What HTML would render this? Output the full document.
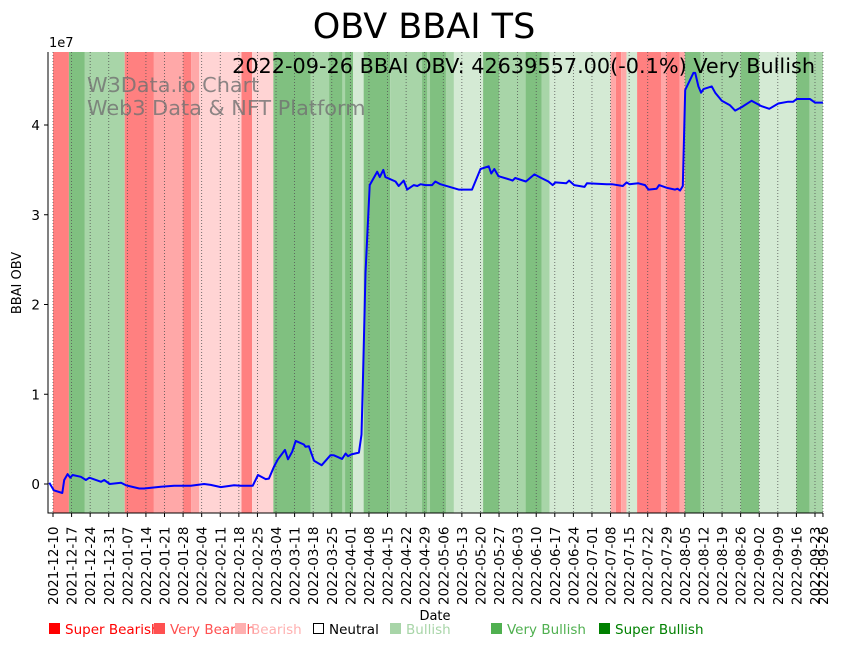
<!DOCTYPE html>
<html><head><meta charset="utf-8"><style>
body{margin:0;background:#fff;}
svg{display:block;font-family:"DejaVu Sans","Liberation Sans",sans-serif;}
</style></head><body>
<svg id="chart" width="842" height="646" viewBox="0 0 842 646" xmlns="http://www.w3.org/2000/svg">
<text x="424" y="38" font-size="35" text-anchor="middle">OBV BBAI TS</text>
<g id="bands"></g>
<g id="grid"></g>
<g id="line"></g>
<text x="87" y="92" font-size="20.8" fill="#707070" fill-opacity="0.8">W3Data.io Chart</text>
<text x="87" y="115" font-size="20.8" fill="#707070" fill-opacity="0.8">Web3 Data &amp; NFT Platform</text>
<text x="815" y="73" font-size="20.8" text-anchor="end">2022-09-26 BBAI OBV: 42639557.00(-0.1%) Very Bullish</text>
<g id="axes"></g>
<text x="49" y="47" font-size="13">1e7</text>
<text transform="translate(21,283) rotate(-90)" font-size="13" text-anchor="middle">BBAI OBV</text>
<text x="435" y="620" font-size="13" text-anchor="middle">Date</text>
<g id="legend"></g>
</svg>
<script>
const bandStarts = [0,6,12,27,38,49,52,55,71,75,83,97,104,109,110,113,117,127,139,141,142,148,151,162,168,178,184,187,210,212,214,216,220,229,231,236,238,244,259,266,280,285];
const bandEnds   = [6,12,27,38,49,52,55,71,75,83,97,104,109,110,113,117,127,139,141,142,148,151,162,168,178,184,187,210,212,214,216,220,229,231,236,238,244,259,266,280,285,290];
const bandCats   = ['sb','vb','b','sb','vr','sb','vr','br','sb','br','vb','b','vb','b','vb','n','vb','b','vb','b','vb','b','n','vb','b','vb','b','n','vr','sb','vr','n','sb','vr','sb','vr','vb','b','vb','n','vb','b'];
const obvDays = [-1.4,0.3,3.5,4.2,5.5,6.5,7.4,10.5,12.4,13.7,18.1,19.3,21.4,25.6,27.5,32.5,34.3,40.6,45.6,51.9,56.9,59.4,63.2,68.2,70.7,75.2,77.2,80.1,81.3,83.2,84.7,87.4,88.5,90.1,91.4,94.5,95.1,96.4,98.3,101.2,104.5,105.8,108.9,110.2,111.1,112.4,115.2,116.2,116.8,117.7,119.3,122.1,123.1,124.4,125.2,129,130.2,132.1,133.4,135.9,137.2,138.4,140.3,142.8,144,145.9,152.8,157.8,161,164.1,165.1,166.2,167.8,172.2,173.1,174.1,178.1,181.3,183.9,186.6,188.2,189.2,193.3,194.4,196.3,200.2,201.1,208.6,210.5,214.6,216.1,217.1,220.5,223,224.3,227.4,228.3,231.2,234.3,235.2,236.2,237.2,238.1,241.2,241.9,243.1,244.1,245,248.1,249.4,251.9,255,256.9,259.4,263.1,266.9,269.8,273.2,276.9,278.8,280.1,285.1,287,290];
const obvValues = [0.015,-0.07,-0.1,0.045,0.11,0.07,0.1,0.08,0.045,0.07,0.025,0.045,0,0.015,-0.015,-0.05,-0.05,-0.03,-0.02,-0.02,0,-0.01,-0.035,-0.015,-0.02,-0.02,0.1,0.055,0.06,0.19,0.275,0.38,0.275,0.36,0.48,0.44,0.415,0.42,0.26,0.21,0.32,0.32,0.28,0.34,0.31,0.33,0.35,0.55,1.23,2.35,3.33,3.48,3.42,3.5,3.42,3.37,3.32,3.38,3.28,3.33,3.32,3.34,3.33,3.33,3.37,3.34,3.28,3.28,3.51,3.54,3.46,3.51,3.43,3.39,3.38,3.41,3.37,3.45,3.41,3.37,3.33,3.36,3.35,3.38,3.33,3.31,3.35,3.34,3.34,3.32,3.36,3.34,3.35,3.33,3.28,3.29,3.33,3.3,3.28,3.29,3.27,3.32,4.39,4.58,4.58,4.43,4.36,4.4,4.43,4.36,4.27,4.22,4.16,4.2,4.27,4.21,4.18,4.24,4.26,4.26,4.29,4.29,4.25,4.25];
const yTicks = [0,1,2,3,4];
const xTickLabels = ['2021-12-10','2021-12-17','2021-12-24','2021-12-31','2022-01-07','2022-01-14','2022-01-21','2022-01-28','2022-02-04','2022-02-11','2022-02-18','2022-02-25','2022-03-04','2022-03-11','2022-03-18','2022-03-25','2022-04-01','2022-04-08','2022-04-15','2022-04-22','2022-04-29','2022-05-06','2022-05-13','2022-05-20','2022-05-27','2022-06-03','2022-06-10','2022-06-17','2022-06-24','2022-07-01','2022-07-08','2022-07-15','2022-07-22','2022-07-29','2022-08-05','2022-08-12','2022-08-19','2022-08-26','2022-09-02','2022-09-09','2022-09-16','2022-09-23','2022-09-26'];
const xTickDays = [0,7,14,21,28,35,42,49,56,63,70,77,84,91,98,105,112,119,126,133,140,147,154,161,168,175,182,189,196,203,210,217,224,231,238,245,252,259,266,273,280,287,290];
const legendLabels = ['Super Bearish','Very Bearish','Bearish','Neutral','Bullish','Very Bullish','Super Bullish'];
const legendColors = ['#ff0000','#ff5050','#ffb0b0','#000000','#a8d5a8','#50b050','#008000'];

const NS='http://www.w3.org/2000/svg';
const L=48,R=823,T=52,B=513;
const X=d=>53+d*2.655;
const Y=v=>484-v*89.75;
const fill={sb:'#ff8080',vr:'#ffa8a8',br:'#ffd4d4',n:'#d4ead4',b:'#a8d5a8',vb:'#80c080'};
function mk(tag,attrs,parent){const e=document.createElementNS(NS,tag);for(const k in attrs)e.setAttribute(k,attrs[k]);parent.appendChild(e);return e;}
const gb=document.getElementById('bands');
for(let i=0;i<bandStarts.length;i++){
  const x1=X(bandStarts[i]),x2=Math.min(X(bandEnds[i]),R);
  const r=mk('rect',{x:x1,y:T,width:x2-x1,height:B-T,fill:fill[bandCats[i]]},gb);
  
  
}
const gg=document.getElementById('grid');
const ga=document.getElementById('axes');
xTickDays.forEach((d,i)=>{
  const x=X(d);
  const g=mk('line',{x1:x,x2:x,y1:T,y2:B,stroke:'#555',"stroke-width":0.8,"stroke-dasharray":'1,2'},gg);
  
  
  mk('line',{x1:x,x2:x,y1:B,y2:B+4,stroke:'#000'},ga);
  const t=mk('text',{transform:`translate(${x+5},${B+92}) rotate(-90)`,"font-size":13.5},ga);
  t.textContent=xTickLabels[i];
  
  
});
yTicks.forEach(v=>{
  const y=Y(v);
  mk('line',{x1:L-4,x2:L,y1:y,y2:y,stroke:'#000'},ga);
  const t=mk('text',{x:L-8,y:y+5,"font-size":13.5,"text-anchor":'end'},ga);
  t.textContent=String(v);
  
  
});
mk('line',{x1:L,x2:L,y1:T,y2:B+0.5,stroke:'#000',"stroke-width":1},ga);
mk('line',{x1:L,x2:R,y1:B,y2:B,stroke:'#000',"stroke-width":1},ga);
const gl=document.getElementById('line');
const pts=obvDays.map((d,i)=>X(d).toFixed(1)+','+Y(obvValues[i]).toFixed(1)).join(' ');
const pl=mk('polyline',{points:pts,fill:'none',stroke:'#0000ff',"stroke-width":2,"stroke-linejoin":'round'},gl);


const lg=document.getElementById('legend');
const lx=[48,153,234,312,389,490,598];
legendLabels.forEach((lab,i)=>{
  const g=mk('g',{},lg);
  
  
  if(i===3) mk('rect',{x:lx[i]+1.5,y:623.5,width:10,height:10,fill:'none',stroke:'#000',"stroke-width":1},g);
  else mk('rect',{x:lx[i]+1,y:623,width:11,height:11,fill:legendColors[i]},g);
  const t=mk('text',{x:lx[i]+17,y:634,"font-size":13.5,fill:legendColors[i]},g);
  t.textContent=lab;
});
</script>
</body></html>
